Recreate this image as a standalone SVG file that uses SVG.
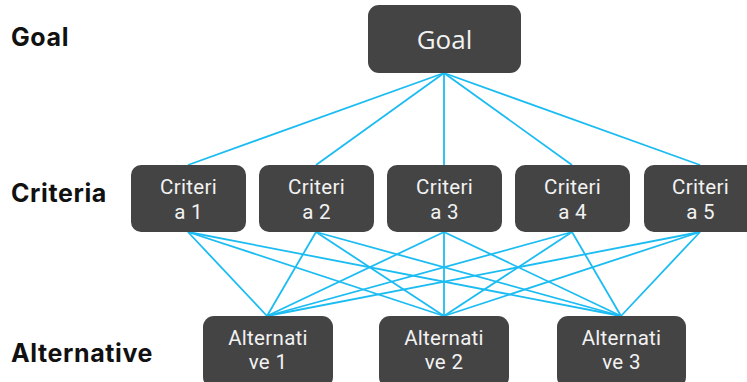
<svg xmlns="http://www.w3.org/2000/svg" width="747" height="382" viewBox="0 0 747 382">
  <style>
    .box { fill: #444444; }
    .lbl { font-family: Roboto, "Noto Sans", sans-serif; font-size: 20.5px; fill: #f2f2f2; text-anchor: middle; letter-spacing: 0.3px; }
    .big { font-family: "Open Sans", "Noto Sans", sans-serif; font-size: 26px; letter-spacing: 0; }
    .level { font-family: "Inter", "Liberation Sans", sans-serif; font-size: 25px; font-weight: bold; fill: #111111; letter-spacing: 0.6px; }
    .edge { stroke: #1bbcf2; stroke-width: 1.8; fill: none; }
  </style>

  <!-- level captions -->
  <text class="level" x="11" y="46">Goal</text>
  <text class="level" x="11" y="202">Criteria</text>
  <text class="level" x="11" y="362">Alternative</text>

  <!-- connectors -->
  <g id="edges">
    <!-- goal to criteria -->
    <line class="edge" x1="444" y1="73" x2="188" y2="165"/>
    <line class="edge" x1="444" y1="73" x2="316" y2="165"/>
    <line class="edge" x1="444" y1="73" x2="444" y2="165"/>
    <line class="edge" x1="444" y1="73" x2="572" y2="165"/>
    <line class="edge" x1="444" y1="73" x2="700" y2="165"/>
    <!-- criteria to alternatives -->
    <line class="edge" x1="188" y1="232" x2="267" y2="316"/>
    <line class="edge" x1="188" y1="232" x2="444" y2="316"/>
    <line class="edge" x1="188" y1="232" x2="621" y2="316"/>
    <line class="edge" x1="316" y1="232" x2="267" y2="316"/>
    <line class="edge" x1="316" y1="232" x2="444" y2="316"/>
    <line class="edge" x1="316" y1="232" x2="621" y2="316"/>
    <line class="edge" x1="444" y1="232" x2="267" y2="316"/>
    <line class="edge" x1="444" y1="232" x2="444" y2="316"/>
    <line class="edge" x1="444" y1="232" x2="621" y2="316"/>
    <line class="edge" x1="572" y1="232" x2="267" y2="316"/>
    <line class="edge" x1="572" y1="232" x2="444" y2="316"/>
    <line class="edge" x1="572" y1="232" x2="621" y2="316"/>
    <line class="edge" x1="700" y1="232" x2="267" y2="316"/>
    <line class="edge" x1="700" y1="232" x2="444" y2="316"/>
    <line class="edge" x1="700" y1="232" x2="621" y2="316"/>
  </g>

  <!-- goal -->
  <g id="goal">
    <rect class="box" x="368" y="5" width="153" height="68" rx="11"/>
    <text class="lbl big" x="444.5" y="49">Goal</text>
  </g>

  <!-- criteria -->
  <g id="criteria1">
    <rect class="box" x="131" y="165" width="115" height="67" rx="10"/>
    <text class="lbl" x="188.5" y="194">Criteri</text>
    <text class="lbl" x="188.5" y="219">a 1</text>
  </g>
  <g id="criteria2">
    <rect class="box" x="259" y="165" width="115" height="67" rx="10"/>
    <text class="lbl" x="316.5" y="194">Criteri</text>
    <text class="lbl" x="316.5" y="219">a 2</text>
  </g>
  <g id="criteria3">
    <rect class="box" x="387" y="165" width="115" height="67" rx="10"/>
    <text class="lbl" x="444.5" y="194">Criteri</text>
    <text class="lbl" x="444.5" y="219">a 3</text>
  </g>
  <g id="criteria4">
    <rect class="box" x="515" y="165" width="115" height="67" rx="10"/>
    <text class="lbl" x="572.5" y="194">Criteri</text>
    <text class="lbl" x="572.5" y="219">a 4</text>
  </g>
  <g id="criteria5">
    <rect class="box" x="644" y="165" width="115" height="67" rx="10"/>
    <text class="lbl" x="700.5" y="194">Criteri</text>
    <text class="lbl" x="700.5" y="219">a 5</text>
  </g>

  <!-- alternatives -->
  <g id="alternative1">
    <rect class="box" x="203" y="316" width="130" height="72" rx="11"/>
    <text class="lbl" x="268" y="345">Alternati</text>
    <text class="lbl" x="268" y="369">ve 1</text>
  </g>
  <g id="alternative2">
    <rect class="box" x="379" y="316" width="130" height="72" rx="11"/>
    <text class="lbl" x="444" y="345">Alternati</text>
    <text class="lbl" x="444" y="369">ve 2</text>
  </g>
  <g id="alternative3">
    <rect class="box" x="557" y="316" width="129" height="72" rx="11"/>
    <text class="lbl" x="621.5" y="345">Alternati</text>
    <text class="lbl" x="621.5" y="369">ve 3</text>
  </g>
</svg>
